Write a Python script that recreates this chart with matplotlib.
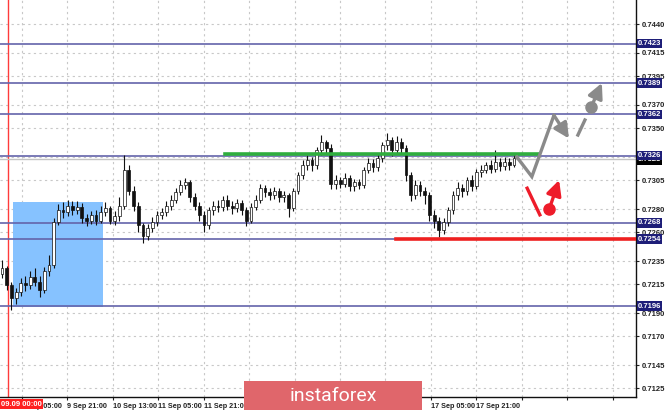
import matplotlib
matplotlib.use('Agg')
import matplotlib.pyplot as plt
import matplotlib.transforms as mtransforms
from matplotlib.patches import Rectangle

# hourly candles
first_open = 0.7224
closes = [0.7229, 0.7214, 0.7203, 0.7208, 0.7216, 0.7214, 0.7221, 0.7217, 0.7210, 0.7226,
          0.7232, 0.7269, 0.7279, 0.7277, 0.7283, 0.7279, 0.7282, 0.7272, 0.7270, 0.7275,
          0.7270, 0.7277, 0.7281, 0.7270, 0.7274, 0.7283, 0.7314, 0.7296, 0.7283, 0.7266,
          0.7257, 0.7264, 0.7269, 0.7275, 0.7277, 0.7283, 0.7288, 0.7295, 0.7301, 0.7303,
          0.7290, 0.7283, 0.7275, 0.7266, 0.7279, 0.7283, 0.7282, 0.7288, 0.7283, 0.7281,
          0.7285, 0.7279, 0.7270, 0.7282, 0.7288, 0.7298, 0.7295, 0.7292, 0.7296, 0.7290,
          0.7292, 0.7281, 0.7296, 0.7309, 0.7318, 0.7322, 0.7318, 0.7331, 0.7338, 0.7333,
          0.7302, 0.7305, 0.7302, 0.7307, 0.7300, 0.7303, 0.7301, 0.7314, 0.7320, 0.7316,
          0.7324, 0.7335, 0.7340, 0.7331, 0.7338, 0.7333, 0.7309, 0.7292, 0.7301, 0.7296,
          0.7292, 0.7275, 0.7270, 0.7262, 0.7269, 0.7279, 0.7292, 0.7298, 0.7296, 0.7305,
          0.7300, 0.7312, 0.7314, 0.7318, 0.7315, 0.7321, 0.7317, 0.7321, 0.7318, 0.7324]
highs = [0.7236, 0.7231, 0.7217, 0.7212, 0.7220, 0.7222, 0.7226, 0.7229, 0.7222, 0.7230,
         0.7240, 0.7272, 0.7284, 0.7286, 0.7288, 0.7287, 0.7287, 0.7285, 0.7276, 0.7278,
         0.7279, 0.7283, 0.7286, 0.7283, 0.7278, 0.7290, 0.7327, 0.7318, 0.7300, 0.7286,
         0.7268, 0.7267, 0.7273, 0.7278, 0.7281, 0.7287, 0.7292, 0.7298, 0.7305, 0.7307,
         0.7305, 0.7294, 0.7286, 0.7278, 0.7282, 0.7287, 0.7288, 0.7291, 0.7292, 0.7287,
         0.7289, 0.7288, 0.7282, 0.7285, 0.7292, 0.7302, 0.7301, 0.7298, 0.7299, 0.7298,
         0.7296, 0.7294, 0.7298, 0.7312, 0.7322, 0.7327, 0.7325, 0.7334, 0.7344, 0.7340,
         0.7336, 0.7309, 0.7308, 0.7311, 0.7309, 0.7306, 0.7306, 0.7316, 0.7324, 0.7323,
         0.7328, 0.7338, 0.7346, 0.7342, 0.7343, 0.7341, 0.7335, 0.7312, 0.7305, 0.7304,
         0.7299, 0.7295, 0.7279, 0.7273, 0.7272, 0.7282, 0.7296, 0.7303, 0.7302, 0.7308,
         0.7309, 0.7315, 0.7318, 0.7321, 0.7322, 0.7331, 0.7324, 0.7325, 0.7324, 0.7327]
lows = [0.7220, 0.7210, 0.7193, 0.7198, 0.7205, 0.7209, 0.7211, 0.7213, 0.7204, 0.7207,
        0.7222, 0.7229, 0.7266, 0.7272, 0.7274, 0.7275, 0.7276, 0.7268, 0.7265, 0.7267,
        0.7266, 0.7268, 0.7274, 0.7267, 0.7266, 0.7270, 0.7280, 0.7292, 0.7278, 0.7260,
        0.7251, 0.7253, 0.7260, 0.7265, 0.7271, 0.7274, 0.7279, 0.7285, 0.7292, 0.7297,
        0.7286, 0.7279, 0.7270, 0.7260, 0.7263, 0.7275, 0.7277, 0.7278, 0.7279, 0.7276,
        0.7277, 0.7275, 0.7265, 0.7268, 0.7279, 0.7285, 0.7290, 0.7288, 0.7289, 0.7286,
        0.7286, 0.7273, 0.7278, 0.7293, 0.7306, 0.7314, 0.7313, 0.7315, 0.7327, 0.7328,
        0.7297, 0.7297, 0.7298, 0.7299, 0.7296, 0.7296, 0.7297, 0.7298, 0.7311, 0.7312,
        0.7313, 0.7321, 0.7331, 0.7326, 0.7328, 0.7328, 0.7304, 0.7287, 0.7289, 0.7291,
        0.7284, 0.7270, 0.7264, 0.7256, 0.7258, 0.7265, 0.7276, 0.7288, 0.7290, 0.7292,
        0.7296, 0.7297, 0.7308, 0.7311, 0.7311, 0.7312, 0.7313, 0.7314, 0.7314, 0.7316]
opens = [first_open] + closes[:-1]

# horizontal levels and annotations
levels = [0.7423, 0.7389, 0.7362, 0.7326, 0.7268, 0.7254, 0.7196]
current_price = 0.7323
green_level = 0.7328
green_span = (47.5, 114.3)
red_level = 0.7254
red_start = 83.9
zone_x = (2.3, 21.5)
zone_y = (0.7195, 0.7286)
marker_bar = 1.3

# forecast scenarios (bar, price)
gray_path_x = [109.6, 112.8, 117.5]
gray_path_y = [0.7325, 0.7308, 0.7361]
gray_arrow = [(117.5, 0.7361), (120.7, 0.7341)]
gray_dash = [(124.1, 0.7357), (122.6, 0.7344)]
gray_dot_arrow = [(125.4, 0.7368), (127.7, 0.7389)]
red_line = [(111.8, 0.7298), (114.5, 0.7275)]
red_dot_arrow = [(116.5, 0.7280), (118.6, 0.7305)]

y_ticks = [0.7440, 0.7415, 0.7395, 0.7370, 0.7350, 0.7325, 0.7305, 0.7280,
           0.7260, 0.7235, 0.7215, 0.7190, 0.7170, 0.7145, 0.7125]
y_tick_labels = ['' if v == 0.7325 else '%.4f' % v for v in y_ticks]  # hidden under level box
x_tick_bars = [4.26, 13.93, 23.6, 33.27, 42.94, 52.61, 62.28, 71.95, 81.62,
               91.29, 100.96, 110.63, 120.3, 129.97]
x_tick_labels = ['9 Sep 05:00', '9 Sep 21:00', '10 Sep 13:00', '11 Sep 05:00', '11 Sep 21:00',
                 '', '', '', '', '17 Sep 05:00', '17 Sep 21:00', '', '', '']

W, H = 665, 412
fig = plt.figure(figsize=(W / 100, H / 100), dpi=100)
ax = fig.add_axes([0, 15 / H, 636 / W, 397 / H])
ax.set_xlim(-0.426, 134.97)
ax.set_ylim(0.71174, 0.74608)

# grid
for yt in y_ticks:
    ax.axhline(yt, color='#c8c8c8', lw=0.8, ls=(0, (2, 3)), zorder=0)
for xt in x_tick_bars:
    ax.axvline(xt, color='#c8c8c8', lw=0.8, ls=(0, (2, 3)), zorder=0)

ax.add_patch(Rectangle((zone_x[0], zone_y[0]), zone_x[1] - zone_x[0], zone_y[1] - zone_y[0],
                       facecolor='#86c2ff', edgecolor='none', zorder=1))
ax.axvline(marker_bar, color='#ff3b3b', lw=1, zorder=2)

for lv in levels:
    ax.axhline(lv, color='#6464aa', lw=1.2, zorder=2)
ax.axhline(current_price, color='#c4c4c4', lw=1, zorder=2)

# candles
idx = list(range(len(closes)))
ax.vlines(idx, lows, highs, color='#111111', lw=0.8, zorder=3)
for i in idx:
    o, c = opens[i], closes[i]
    bottom = min(o, c)
    height = max(abs(c - o), 0.00003)
    fc = 'white' if c >= o else '#111111'
    ax.bar(i, height, bottom=bottom, width=0.6, color=fc, edgecolor='#111111',
           linewidth=0.5, zorder=4)

ax.plot(green_span, [green_level, green_level], color='#2fae3e', lw=2.6, zorder=5)
ax.plot([red_start, 134.97], [red_level, red_level], color='#ee2020', lw=2.6, zorder=5)

gray = '#8a8a8a'
ax.plot(gray_path_x, gray_path_y, color=gray, lw=2.4, zorder=6, solid_joinstyle='miter')
ax.annotate('', xy=gray_arrow[1], xytext=gray_arrow[0],
            arrowprops=dict(arrowstyle='-|>,head_length=0.9,head_width=0.45', color=gray, lw=2.4,
                            shrinkA=0, shrinkB=0), zorder=6)
ax.plot([p[0] for p in gray_dash], [p[1] for p in gray_dash], color=gray, lw=2.4, zorder=6)
ax.plot(*gray_dot_arrow[0], 'o', color=gray, ms=8, zorder=6)
ax.annotate('', xy=gray_dot_arrow[1], xytext=gray_dot_arrow[0],
            arrowprops=dict(arrowstyle='-|>,head_length=0.9,head_width=0.45', color=gray, lw=2.4,
                            shrinkA=0, shrinkB=0), zorder=6)

red = '#ee1c2a'
ax.plot([p[0] for p in red_line], [p[1] for p in red_line], color=red, lw=2.4, zorder=6)
ax.plot(*red_dot_arrow[0], 'o', color=red, ms=8, zorder=6)
ax.annotate('', xy=red_dot_arrow[1], xytext=red_dot_arrow[0],
            arrowprops=dict(arrowstyle='-|>,head_length=0.9,head_width=0.45', color=red, lw=2.4,
                            shrinkA=0, shrinkB=0), zorder=6)

# axes styling
for s in ['left', 'top']:
    ax.spines[s].set_visible(False)
for s in ['right', 'bottom']:
    ax.spines[s].set_color('#111111')
    ax.spines[s].set_linewidth(1)
ax.yaxis.tick_right()
ax.set_yticks(y_ticks)
ax.set_yticklabels(y_tick_labels)
ax.set_xticks(x_tick_bars)
ax.set_xticklabels(x_tick_labels, ha='left')
ax.tick_params(axis='y', length=2.5, pad=2, labelsize=5.5, colors='#222222')
ax.tick_params(axis='x', length=2.5, pad=2, labelsize=5.2, colors='#222222')
for lab in ax.get_xticklabels() + ax.get_yticklabels():
    lab.set_family('Liberation Sans')
    lab.set_fontweight('bold')

trans = mtransforms.blended_transform_factory(ax.transAxes, ax.transData)
ax.text(1.003, current_price - 0.00005, '0.7323', transform=trans, fontsize=5.5, color='white',
        va='center', ha='left', family='Liberation Sans', fontweight='bold',
        bbox=dict(boxstyle='square,pad=0.15', fc='#000000', ec='none'), zorder=9)
for lv in levels:
    ax.text(1.003, lv, '%.4f' % lv, transform=trans, fontsize=5.5, color='white',
            va='center', ha='left', family='Liberation Sans', fontweight='bold',
            bbox=dict(boxstyle='square,pad=0.15', fc='#1e1e78', ec='none'), zorder=10)

fig.text(1 / W, 1 - 404 / H, '09.09 00:00', fontsize=5.5, color='white', va='center',
         ha='left', family='Liberation Sans', fontweight='bold',
         bbox=dict(boxstyle='square,pad=0.2', fc='#ff2020', ec='none'), zorder=10)

# logo
fig.add_artist(Rectangle((244 / W, 1 - 410 / H), 178 / W, 29 / H, transform=fig.transFigure,
                         facecolor='#e0666b', edgecolor='none', zorder=20))
fig.text(333 / W, 1 - 396 / H, 'instaforex', fontsize=14, color='white', ha='center',
         va='center', family='Roboto', zorder=21)

fig.savefig('out.png', dpi=100)
